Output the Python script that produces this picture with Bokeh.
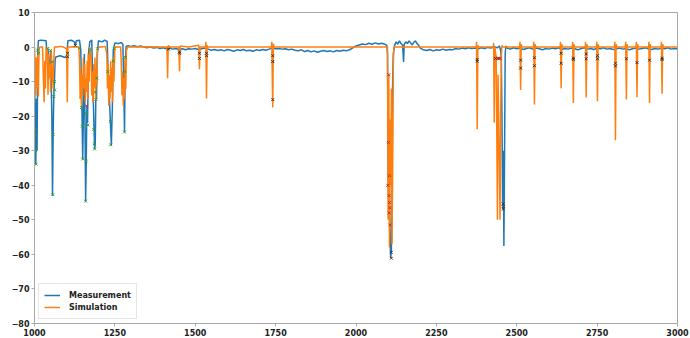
from bokeh.plotting import figure
from bokeh.models import Range1d, FixedTicker, Legend, LegendItem
from bokeh.embed import file_html
from bokeh.resources import INLINE

# ---------------- data ----------------
x_ticks = [1000, 1250, 1500, 1750, 2000, 2250, 2500, 2750, 3000]
y_ticks = [10, 0, -10, -20, -30, -40, -50, -60, -70, -80]

measurement_pts = [
    (1000, -5), (1002, -25), (1004, -34), (1006, -15), (1008, -30), (1010, -2), (1012, 1.8),
    (1020, 2.0), (1030, 1.9), (1036, 1.8), (1038, -1), (1042, -0.5), (1046, -8), (1050, -1),
    (1054, -20), (1056, -43), (1058, -25), (1060, -14), (1062, -10), (1064, -4), (1066, -2.9),
    (1080, -2.5), (1095, -3), (1100, -2.5), (1104, 1.8), (1115, 2.0), (1124, 1.5), (1127, 0.5),
    (1130, 1.8), (1140, 2.0), (1144, -1), (1147, -15), (1150, -32.5), (1152, -20), (1155, -2),
    (1157, -22), (1159, -44.6), (1161, -33), (1163, -17), (1165, -22), (1168, -2), (1172, 1.5),
    (1178, 2.0), (1182, -12), (1185, -23), (1187, -29.5), (1189, -28), (1191, -13), (1193, -15),
    (1195, -2), (1199, 1.8), (1210, 1.5), (1218, 2.0), (1226, 1.6), (1229, -7), (1233, -15),
    (1236, -21.7), (1239, -28.4), (1242, -18), (1245, -1), (1250, 1.2), (1260, 1.0), (1270, 1.3),
    (1275, 0.8), (1277, -8), (1280, -24.6), (1282, -6), (1285, 0.2), (1290, 0.4),
    (1300, 0.2), (1310, 0.4), (1320, 0.1), (1330, 0.3), (1340, 0.0), (1350, -0.2), (1360, 0.1),
    (1370, -0.3), (1380, -0.1), (1390, -0.4), (1400, -0.2), (1410, -0.5), (1420, -0.3),
    (1430, -0.6), (1440, -0.4), (1450, -0.7), (1460, -0.5), (1470, -0.8), (1480, -0.5),
    (1490, -0.6), (1500, -0.4), (1510, -0.7), (1520, -0.5), (1530, -0.3), (1540, -0.6),
    (1550, -0.9), (1560, -0.7), (1570, -1.0), (1580, -0.8), (1590, -1.1), (1600, -0.7),
    (1610, -0.9), (1620, -1.2), (1630, -0.8), (1640, -1.0), (1650, -0.7), (1660, -1.1),
    (1670, -0.9), (1680, -1.2), (1690, -0.8), (1700, -1.0), (1710, -0.7), (1720, -0.9),
    (1730, -0.6), (1740, -0.3), (1750, -0.5), (1760, -0.4), (1770, -0.6), (1780, -0.5),
    (1790, -0.8), (1800, -0.6), (1810, -0.9), (1820, -1.1), (1830, -0.8), (1840, -1.3),
    (1850, -1.0), (1860, -1.4), (1870, -1.1), (1880, -1.5), (1890, -1.2), (1900, -1.0),
    (1910, -1.3), (1920, -1.1), (1930, -1.4), (1940, -1.0), (1950, -1.2), (1960, -0.9),
    (1970, -1.1), (1980, -0.8), (1990, -0.2), (2000, 0.3), (2010, 0.6), (2020, 0.9),
    (2030, 0.7), (2040, 1.1), (2050, 0.8), (2060, 1.2), (2070, 0.9), (2080, 1.1), (2090, 0.8),
    (2096, 0.5), (2098, -2), (2100, -38), (2102, -45), (2104, -40), (2106, -55), (2108, -61),
    (2110, -59), (2112, -45), (2114, -10), (2116, -2), (2120, 0.5), (2125, 1.5), (2130, 0.8),
    (2135, 1.8), (2140, 1.0), (2145, 0.5), (2148, -4.3), (2150, 0.8), (2155, 1.5), (2160, 1.0),
    (2165, 1.8), (2170, 1.2), (2175, 0.6), (2180, 1.4), (2185, 1.8), (2190, 1.0), (2195, 0.5),
    (2200, -0.3), (2210, -0.8), (2220, -1.0), (2230, -0.7), (2240, -1.1), (2250, -0.8),
    (2260, -0.9), (2270, -0.6), (2280, -0.9), (2290, -0.7), (2300, -0.8), (2310, -0.4),
    (2320, -0.6), (2330, -0.3), (2340, -0.5), (2350, -0.2), (2360, -0.4), (2370, -0.3),
    (2380, -0.5), (2390, -0.2), (2400, -0.4), (2410, -0.1), (2420, -0.3), (2430, 0.1),
    (2440, -0.2), (2446, 0.3), (2450, -1), (2452, -3), (2454, -20), (2456, -46), (2458, -30),
    (2460, -57.6), (2462, -32), (2464, -2), (2466, 0.3),
    (2470, -0.3), (2480, -0.6), (2490, -0.2), (2500, -0.5), (2510, -0.3), (2520, -0.7),
    (2530, -0.4), (2540, -0.2), (2550, -0.6), (2560, -0.3), (2570, -0.5), (2580, -0.8),
    (2590, -0.4), (2600, -0.6), (2610, -0.3), (2620, -0.5), (2630, -0.2), (2640, -0.7),
    (2650, -0.4), (2660, -0.6), (2670, -0.3), (2680, -0.5), (2690, -0.8), (2700, -0.4),
    (2710, -0.2), (2720, -0.6), (2730, -0.4), (2740, -0.7), (2750, -0.3), (2760, -0.5),
    (2770, -0.2), (2780, -0.6), (2790, -0.4), (2800, -0.7), (2810, -0.5), (2820, -0.3),
    (2830, -0.6), (2840, -0.4), (2850, -0.8), (2860, -0.5), (2870, -0.3), (2880, -0.6),
    (2890, -0.4), (2900, -0.2), (2910, -0.5), (2920, -0.7), (2930, -0.4), (2940, -0.6),
    (2950, -0.3), (2960, -0.5), (2970, -0.2), (2980, -0.6), (2990, -0.4), (3000, -0.5),
]

simulation_pts = [
    (1000, 0), (1002, -5), (1004, -14), (1006, -3), (1008, -12), (1010, -2), (1012, -14.3),
    (1014, -1), (1016, 0), (1025, 0), (1028, -10), (1030, -16), (1032, -4), (1034, -12),
    (1036, 0), (1040, -1), (1042, -13.8), (1044, -2), (1046, -9), (1048, -5), (1050, -13),
    (1052, -1), (1055, -6), (1058, -12), (1060, -4), (1062, 0), (1070, 0), (1080, 0.2),
    (1090, 0), (1100, -0.5), (1102, -16), (1104, 0), (1110, 0), (1120, 0.1), (1130, 0),
    (1138, 0), (1140, -4), (1142, -15), (1144, -6), (1146, -17), (1148, -8), (1150, -14),
    (1152, -3), (1154, -12), (1156, -5), (1158, -16), (1160, -9), (1162, -13), (1164, -4),
    (1166, -15), (1168, -2), (1170, -10), (1172, 0), (1176, -3), (1178, -14), (1180, -7),
    (1182, -16), (1184, -5), (1186, -12), (1188, -3), (1190, -15), (1192, -6), (1194, -11),
    (1196, -1), (1200, 0), (1210, 0), (1220, 0.2), (1225, -2), (1227, -12), (1229, -5),
    (1231, -17), (1233, -8), (1235, -15), (1237, -4), (1239, -13), (1241, -6), (1243, -16),
    (1245, -3), (1247, -10), (1250, 0), (1260, 0), (1268, 0), (1270, -5), (1272, -14),
    (1274, -7), (1276, -17), (1278, -9), (1280, -15), (1282, -3), (1284, -12), (1286, -1),
    (1290, 0), (1350, 0.1), (1412, 0), (1414, -9), (1416, 0.5), (1420, 0), (1449, 0),
    (1451, -7), (1453, 0.3), (1480, 0), (1511, 0.5), (1513, -6.4), (1515, 0), (1532, 0),
    (1533, 1.5), (1535, -14.9), (1537, 0.5), (1540, 0), (1600, 0), (1700, 0), (1737, 0),
    (1738, 1.5), (1741, -17.5), (1743, 1), (1745, 0), (1800, 0), (1900, 0), (2000, 0),
    (2098, 0), (2100, -50), (2102, -8), (2104, -58), (2106, -21), (2108, -40), (2110, -12),
    (2112, -57), (2114, -37), (2116, -5), (2118, 0), (2200, 0), (2300, 0), (2374, 0),
    (2375, 1.5), (2377, -23.8), (2379, 0.5), (2381, 0), (2427, 0), (2428, 1.2), (2430, -21.9),
    (2432, 0), (2436, -3), (2440, -50), (2442, -8), (2446, -35), (2448, -50), (2450, -20),
    (2452, -3), (2454, 0.5), (2456, 0), (2509, 0), (2510, 1.5), (2512, -12.4), (2514, 0.8),
    (2516, 0), (2552, 0), (2553, 1.5), (2555, -16.6), (2557, 0.8), (2559, 0), (2635, 0),
    (2636, 1.5), (2638, -11.9), (2640, 0.8), (2642, 0), (2673, 0), (2674, 1.5), (2676, -16.2),
    (2678, 0.8), (2680, 0), (2713, 0), (2714, 1.5), (2716, -14.6), (2718, 0.8), (2720, 0),
    (2748, 0), (2749, 1.5), (2751, -15.7), (2753, 0.8), (2755, 0), (2804, 0), (2805, 1.5),
    (2807, -27), (2809, 0.8), (2811, 0), (2838, 0), (2839, 1.5), (2841, -15.2), (2843, 0.8),
    (2845, 0), (2871, 0), (2872, 1.5), (2874, -14.5), (2876, 0.8), (2878, 0), (2910, 0),
    (2911, 1.5), (2913, -16.2), (2915, 0.8), (2917, 0), (2949, 0), (2950, 1.5), (2952, -13.5),
    (2954, 0.8), (2956, 0), (3000, 0),
]

green_pts = [
    (1001, -15.2), (1002, -23.8), (1003, -25.3), (1004, -30), (1005, -33.9), (1010, -0.9),
    (1013, -1.8), (1041, -0.4), (1050, -1), (1055, -4.3), (1057, -42.7), (1058, -25.3),
    (1060, -14.3), (1062, -10), (1063, -12.4), (1140, -0.3), (1146, -17.5), (1149, -22.9),
    (1150, -32.4), (1159, -44.6), (1161, -33), (1162, -19.2), (1166, -22.6), (1171, -0.8),
    (1184, -23.8), (1186, -28), (1187, -29.5), (1189, -13.1), (1191, -15.2), (1194, -9),
    (1196, -0.5), (1228, -7.1), (1236, -21.5), (1237, -28.3), (1245, -4), (1248, -0.4),
    (1280, -24.6), (1281, -7.1), (1283, -3),
]
red_pts = [
    (1162, -17), (2102, -8), (2101, -27.6), (2104, -37.2), (2099, -40), (2103, -43),
    (2104, -45), (2105, -46.5), (2103, -48), (2106, -51.5), (2440, -3.3), (2442, -3.3),
    (2444, -3.2), (2446, -3.4), (2448, -3.3),
]
black_pts = [
    (1103, -1.8), (1103, -2.8), (1127, 0.5), (1417, -0.6), (1451, -1.4), (1451, -1.8),
    (1513, -1.8), (1513, -3.3), (1535, -1.8), (1535, -2.5), (1741, -2.5), (1741, -4.2),
    (1741, -15.2), (2110, -59.4), (2110, -61.1), (2377, -3.6), (2377, -4.1), (2434, -3.3),
    (2458, -45.4), (2458, -46.2), (2458, -46.9), (2512, -3.8), (2512, -6.1), (2555, -3.1),
    (2555, -5.4), (2638, -1.8), (2638, -4.7), (2676, -3.2), (2676, -3.6), (2716, -2.0),
    (2716, -3.4), (2751, -2.5), (2751, -3.4), (2807, -4.7), (2807, -5.5), (2841, -3.4),
    (2874, -4.5), (2913, -3.8), (2952, -3.2), (2952, -3.6),
]

# ---------------- plot ----------------
FONT = "DejaVu Sans"
p = figure(width=690, height=338, output_backend="svg", toolbar_location=None,
           x_range=Range1d(1000, 3000), y_range=Range1d(-80, 10),
           min_border_left=34, min_border_right=13, min_border_top=12, min_border_bottom=12)
p.grid.visible = False
p.outline_line_color = "#a8a8a8"
p.background_fill_color = "white"
p.border_fill_color = "white"

for ax in (p.xaxis[0], p.yaxis[0]):
    ax.axis_line_color = "#a8a8a8"
    ax.major_tick_line_color = "#a8a8a8"
    ax.minor_tick_line_color = None
    ax.major_tick_out = 3
    ax.major_tick_in = 0
    ax.major_label_standoff = 2
    ax.major_label_text_font = FONT
    ax.major_label_text_font_style = "bold"
    ax.major_label_text_font_size = "8px"
    ax.major_label_text_color = "#222222"

p.xaxis.ticker = FixedTicker(ticks=x_ticks)
p.yaxis.ticker = FixedTicker(ticks=y_ticks)
p.yaxis.major_label_overrides = {t: (str(t).replace("-", "\u2212")) for t in y_ticks}

mx = [a for a, b in measurement_pts]
my = [b for a, b in measurement_pts]
sx = [a for a, b in simulation_pts]
sy = [b for a, b in simulation_pts]

r_meas = p.line(mx, my, line_color="#1f77b4", line_width=1.5)
r_sim = p.line(sx, sy, line_color="#ff7f0e", line_width=1.5)

p.scatter([a for a, b in green_pts], [b for a, b in green_pts], marker="x", size=4,
          line_color="#2ca02c", line_width=1)
p.scatter([a for a, b in red_pts], [b for a, b in red_pts], marker="x", size=4,
          line_color="#d62728", line_width=1)
p.scatter([a for a, b in black_pts], [b for a, b in black_pts], marker="x", size=4,
          line_color="#333333", line_width=1)

legend = Legend(items=[LegendItem(label="Measurement", renderers=[r_meas]),
                       LegendItem(label="Simulation", renderers=[r_sim])],
                location="bottom_left")
legend.label_text_font = FONT
legend.label_text_font_style = "bold"
legend.label_text_font_size = "8px"
legend.label_text_color = "#222222"
legend.glyph_width = 16
legend.glyph_height = 12
legend.label_height = 12
legend.label_standoff = 9
legend.spacing = 0
legend.padding = 5
legend.margin = 4
legend.border_line_color = "#cccccc"
legend.background_fill_alpha = 0.85
p.add_layout(legend)

open("out.html", "w").write(file_html(p, INLINE))
